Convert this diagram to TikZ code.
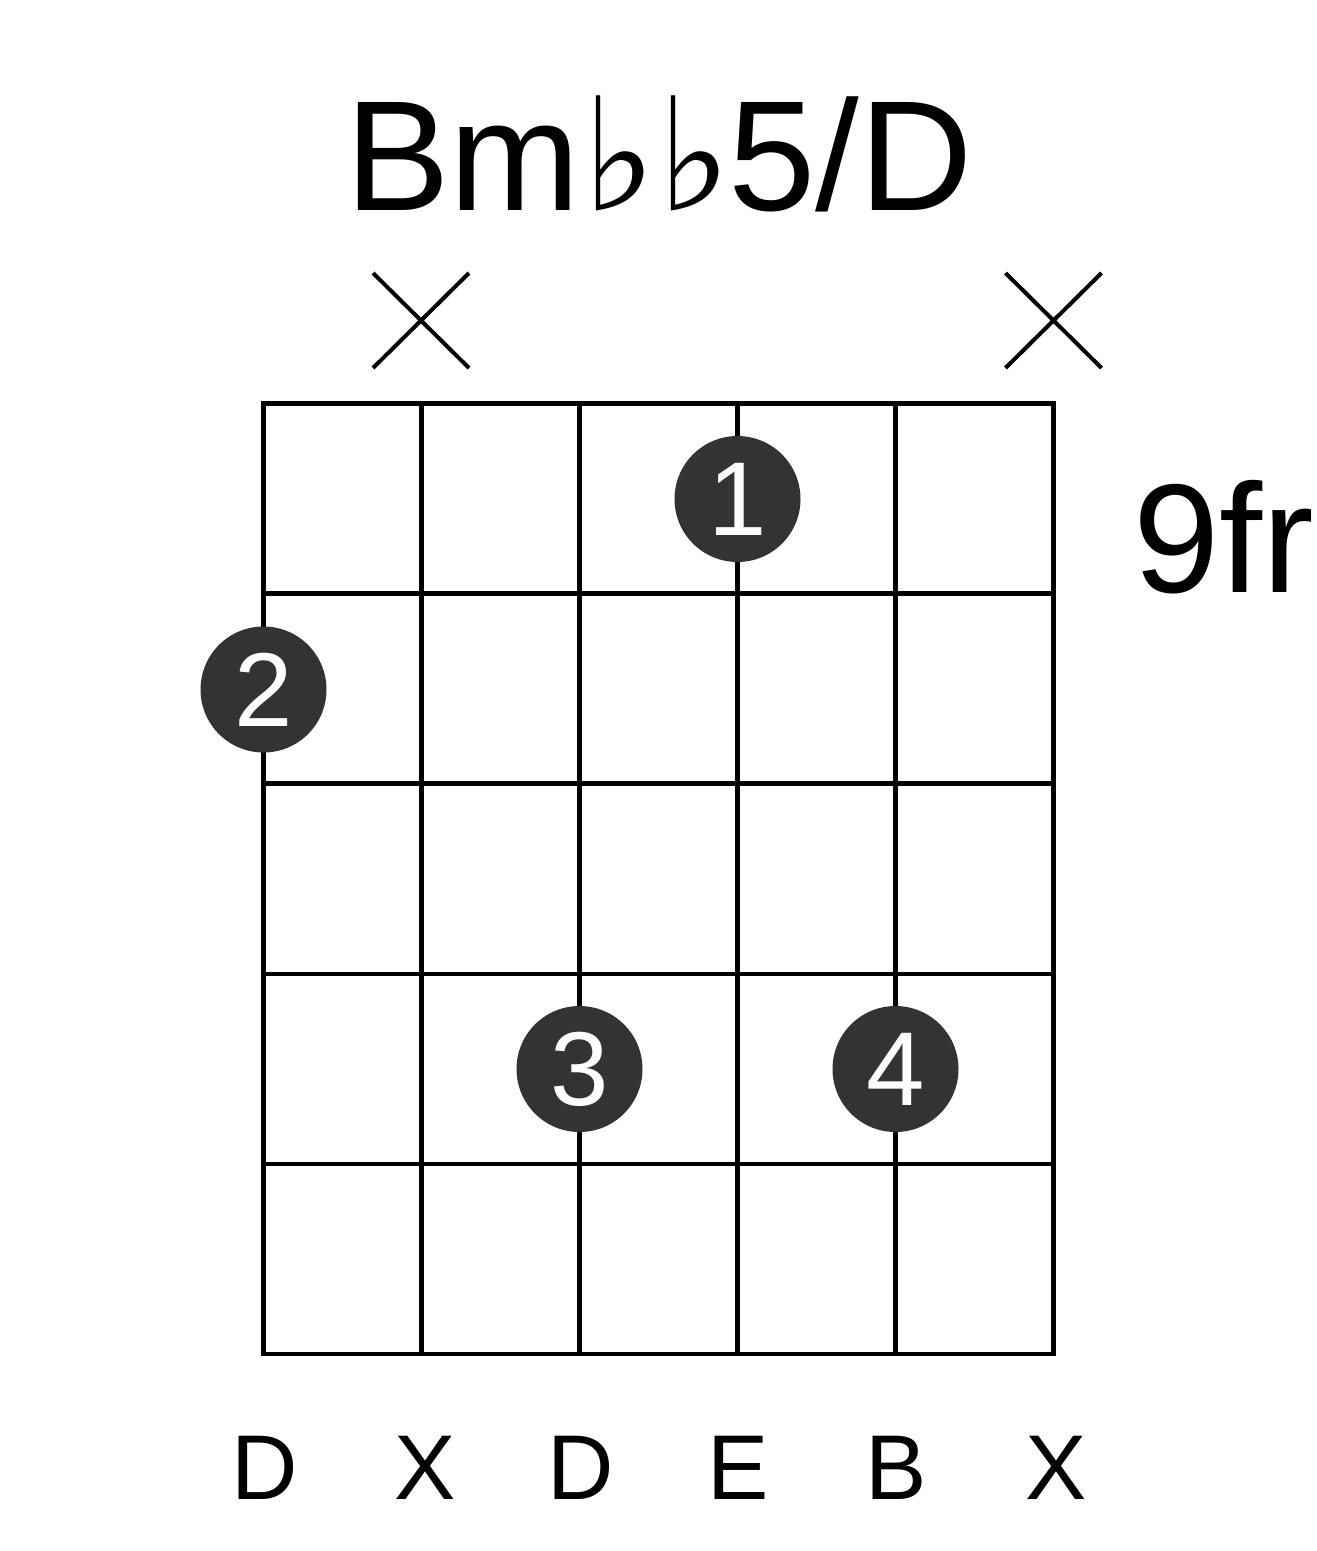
\documentclass[tikz,border=0pt]{standalone}
\usepackage{fontspec}
\setmainfont{Liberation Sans}
\newfontfamily\flatfont{DejaVu Serif}
\definecolor{dotgray}{HTML}{333333}
\tikzset{
  gridline/.style={line width=4.5pt, black},
  mutemark/.style={line width=4pt, black},
  fingerdot/.style={circle, fill=dotgray, minimum size=126pt, inner sep=0pt, text=white, font=\fontsize{105}{105}\selectfont},
  strlabel/.style={anchor=base, inner sep=0pt, font=\fontsize{92}{92}\selectfont},
}
\begin{document}
\begin{tikzpicture}[x=1pt, y=-1pt]
\useasboundingbox (0,0) rectangle (1317,1551);
% title
\node[anchor=base, inner sep=0pt, font=\fontsize{157}{157}\selectfont] (title) at (659,210) {Bm\hspace{2pt}{\flatfont ♭\hspace{1pt}♭}\hspace{-3pt}5/D};
% mute marks
\coordinate (m1a) at (373,273); \coordinate (m1b) at (469,368);
\coordinate (m1c) at (373,368); \coordinate (m1d) at (469,273);
\draw[mutemark] (m1a) -- (m1b) (m1c) -- (m1d);
\coordinate (m6a) at (1005.5,273); \coordinate (m6b) at (1101.5,368);
\coordinate (m6c) at (1005.5,368); \coordinate (m6d) at (1101.5,273);
\draw[mutemark] (m6a) -- (m6b) (m6c) -- (m6d);
% grid
\foreach \i in {0,...,5} {
  \coordinate (s\i t) at (263.5+158*\i,403.5);
  \coordinate (s\i b) at (263.5+158*\i,1354);
  \draw[gridline] (s\i t) -- (s\i b);
}
\foreach \j in {0,...,5} {
  \coordinate (f\j l) at (263.5,403.5+190.1*\j);
  \coordinate (f\j r) at (1053.5,403.5+190.1*\j);
  \draw[gridline] (f\j l) -- (f\j r);
}
\draw[gridline] (263.5,403.5) rectangle (1053.5,1354);
% fret label
\node[anchor=base west, inner sep=0pt, font=\fontsize{155}{155}\selectfont] (fret) at (1133,592) {9fr};
% finger dots
\node[fingerdot] (d1) at (737.5,499) {1};
\node[fingerdot] (d2) at (263.5,689.5) {2};
\node[fingerdot] (d3) at (579.5,1069) {3};
\node[fingerdot] (d4) at (895.5,1069) {4};
% string labels
\node[strlabel] (l1) at (264.5,1499) {D};
\node[strlabel] (l2) at (425,1499) {X};
\node[strlabel] (l3) at (580.5,1499) {D};
\node[strlabel] (l4) at (738.5,1499) {E};
\node[strlabel] (l5) at (896,1499) {B};
\node[strlabel] (l6) at (1056.5,1499) {X};
\end{tikzpicture}
\end{document}
